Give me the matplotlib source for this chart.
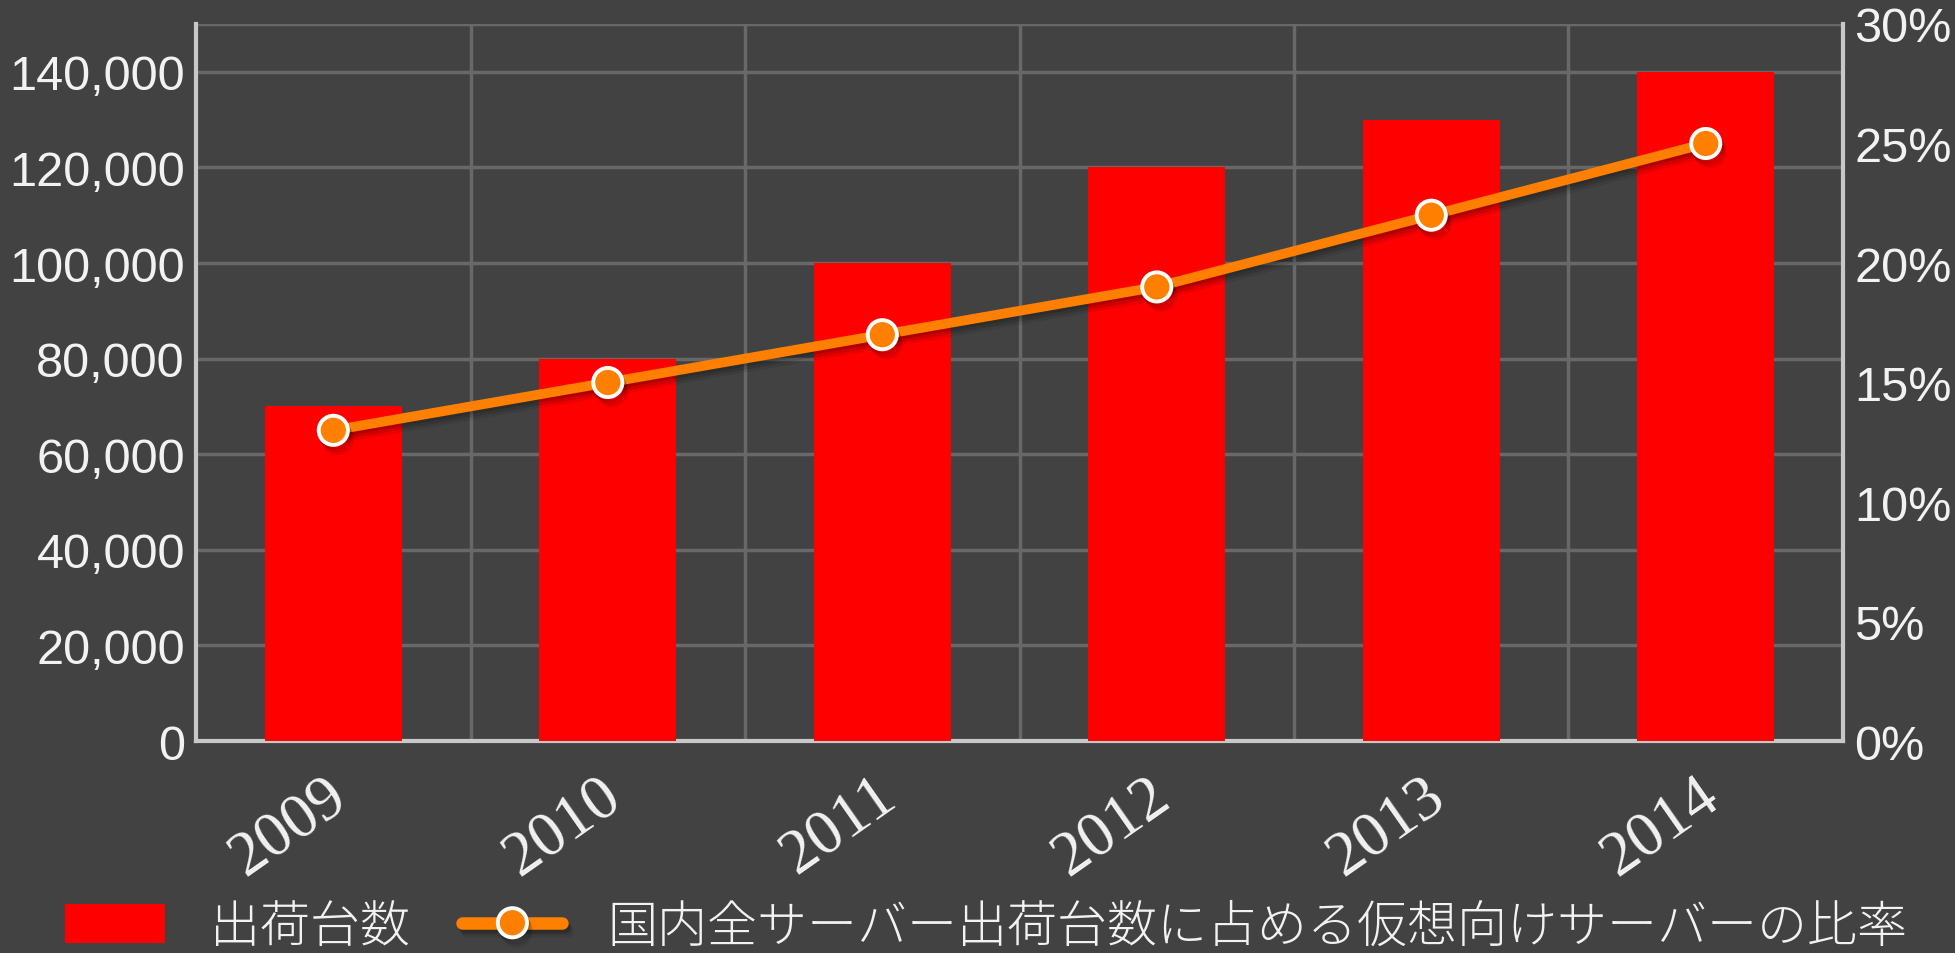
# chart render script
import matplotlib
matplotlib.use('Agg')
import matplotlib.pyplot as plt
import matplotlib.patheffects as pe
from matplotlib.transforms import ScaledTranslation
from matplotlib.lines import Line2D
from matplotlib.patches import Patch

# data
years = ['2009', '2010', '2011', '2012', '2013', '2014']
shipments = [70000, 80000, 100000, 120000, 130000, 140000]
virtual_ratio = [13, 15, 17, 19, 22, 25]  # percent

bar_label = '出荷台数'
line_label = '国内全サーバー出荷台数に占める仮想向けサーバーの比率'

left_ticks = [0, 20000, 40000, 60000, 80000, 100000, 120000, 140000]
right_ticks = [0, 5, 10, 15, 20, 25, 30]

bg = '#424242'
grid_c = '#686868'
spine_c = '#c8c8c8'
txt_c = '#f2f2f2'
orange = '#ff8000'

fig = plt.figure(figsize=(19.55, 9.54), dpi=100, facecolor=bg)
ax = fig.add_axes([0.1003, 0.2222, 0.8424, 0.7516])
ax.set_facecolor(bg)

x = list(range(len(years)))
ax.bar(x, shipments, width=0.5, color='#ff0000', zorder=3)
ax.set_xlim(-0.5, len(years) - 0.5)
ax.set_ylim(0, 150000)

# grid
ax.set_yticks(left_ticks)
ax.set_yticklabels([f'{v:,}' for v in left_ticks])
ax.set_xticks(x)
ax.grid(False)
for v in left_ticks[1:] + [150000]:
    ax.axhline(v, color=grid_c, lw=2.5, zorder=1)
for i in x[:-1]:
    ax.axvline(i + 0.5, color=grid_c, lw=2.5, zorder=1)

for s in ['left', 'bottom']:
    ax.spines[s].set_color(spine_c)
    ax.spines[s].set_linewidth(3)
ax.spines['top'].set_visible(False)
ax.spines['right'].set_visible(False)

ax.tick_params(axis='y', length=0, pad=8, labelsize=35, labelcolor=txt_c)
ax.tick_params(axis='x', which='both', length=0, pad=18)
for lab in ax.get_yticklabels():
    lab.set_fontfamily('Liberation Sans')

ax.set_xticklabels(years, rotation=35, ha='right', fontsize=46,
                   color=txt_c, fontfamily='Liberation Serif')
for lab in ax.get_xticklabels():
    lab.set_transform(lab.get_transform() + ScaledTranslation(0.24, 0, fig.dpi_scale_trans))

# right axis
ax2 = ax.twinx()
ax2.set_ylim(0, 30)
ax2.set_yticks(right_ticks)
ax2.set_yticklabels([f'{v}%' for v in right_ticks])
ax2.tick_params(axis='y', length=0, pad=8, labelsize=35, labelcolor=txt_c)
for lab in ax2.get_yticklabels():
    lab.set_fontfamily('Liberation Sans')
for s in ['left', 'bottom', 'top']:
    ax2.spines[s].set_visible(False)
ax2.spines['right'].set_color(spine_c)
ax2.spines['right'].set_linewidth(3)

# soft drop shadow under the line
shadow = [pe.SimpleLineShadow(offset=(1, -2), shadow_color='black', alpha=0.15),
          pe.SimpleLineShadow(offset=(2, -4), shadow_color='black', alpha=0.12),
          pe.SimpleLineShadow(offset=(3, -6), shadow_color='black', alpha=0.08),
          pe.Normal()]
ax2.plot(x, virtual_ratio, color=orange, lw=7, marker='o', markersize=21,
         markerfacecolor=orange, markeredgecolor='white', markeredgewidth=2.8,
         path_effects=shadow, zorder=4)

# legend
handles = [
    Patch(facecolor='#ff0000', edgecolor='none'),
    Line2D([], [], color=orange, lw=9, marker='o', markersize=21,
           markerfacecolor=orange, markeredgecolor='white', markeredgewidth=2.8,
           solid_capstyle='round', path_effects=shadow),
]
leg = fig.legend(handles, [bar_label, line_label], loc='center left',
                 bbox_to_anchor=(0.0332, 0.027), ncol=2, frameon=False,
                 borderpad=0, borderaxespad=0, handlelength=2.0, handleheight=0.8,
                 handletextpad=0.9, columnspacing=1.05,
                 prop={'family': ['Noto Sans CJK JP', 'DejaVu Sans'], 'size': 36, 'weight': 'light'})
for t in leg.get_texts():
    t.set_color(txt_c)

fig.savefig('out.png', dpi=100, facecolor=bg)
